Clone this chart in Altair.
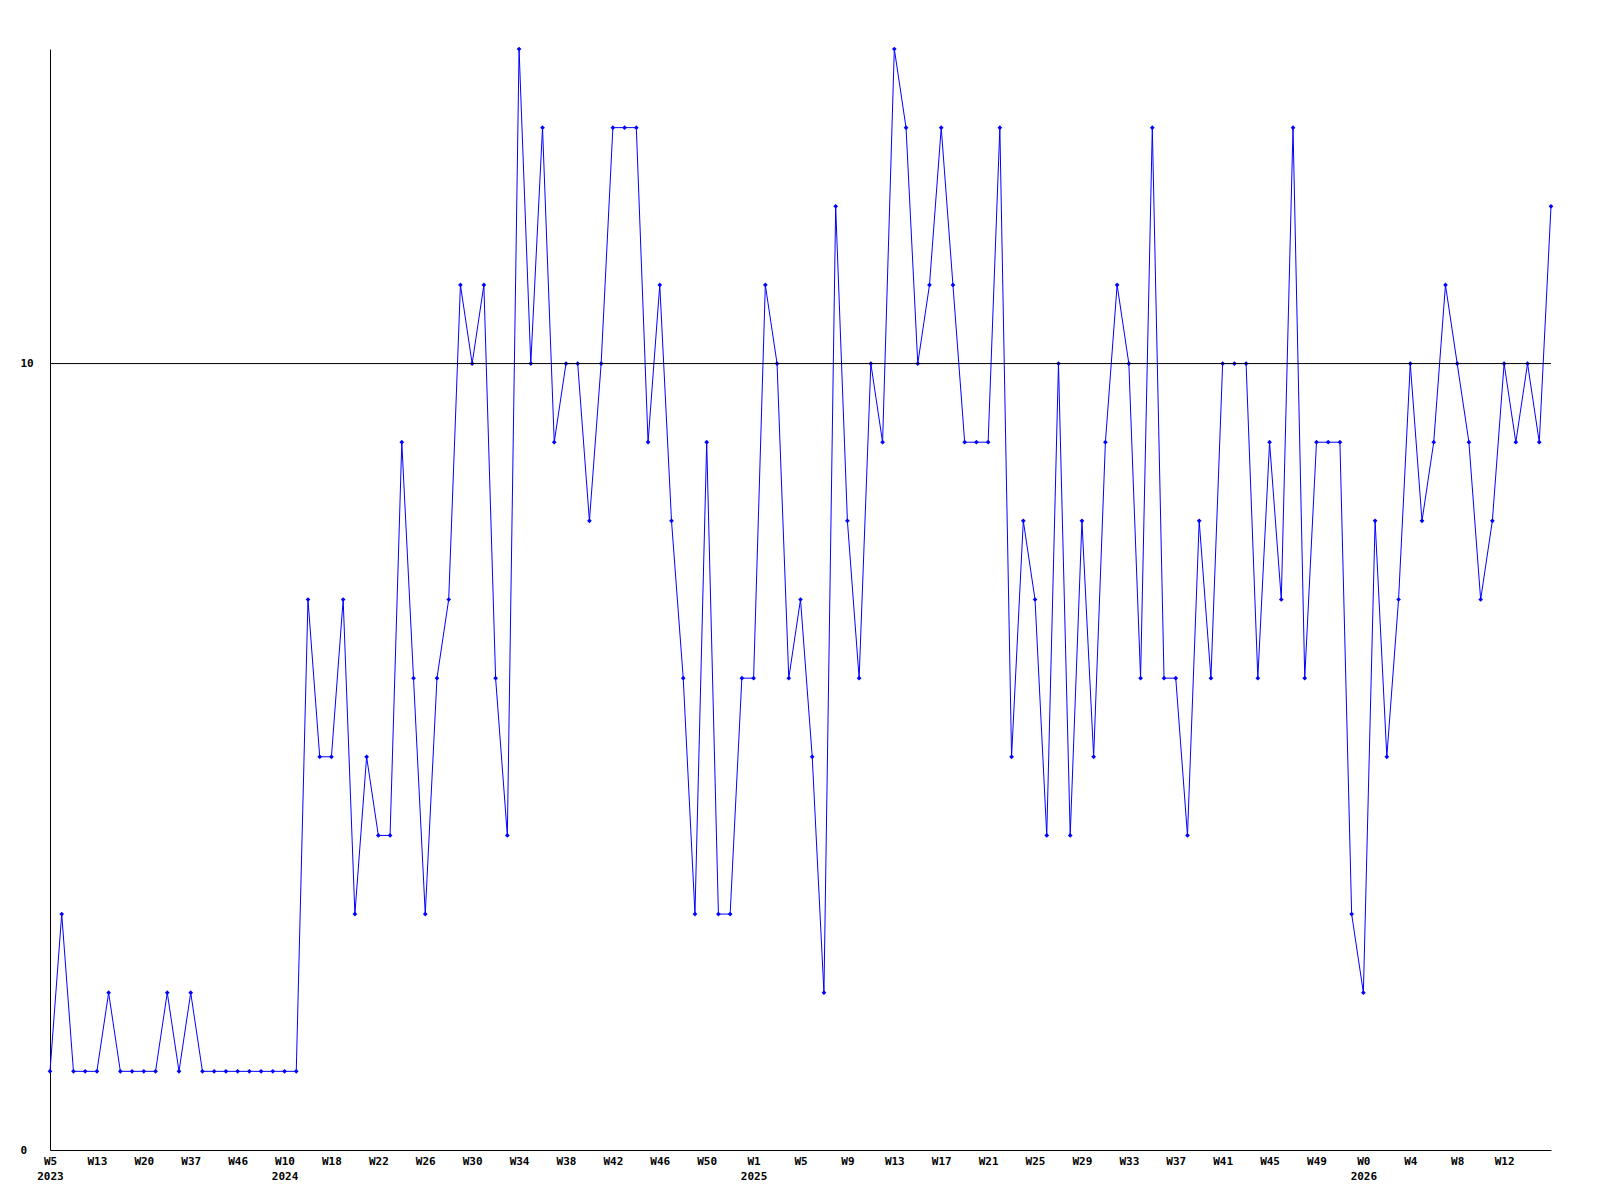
import altair as alt
import pandas as pd
import json

# values per point (129 weekly points)
values = [
    1, 3, 1, 1, 1, 2, 1, 1, 1, 1,
    2, 1, 2, 1, 1, 1, 1, 1, 1, 1,
    1, 1, 7, 5, 5, 7, 3, 5, 4, 4,
    9, 6, 3, 6, 7, 11, 10, 11, 6, 4,
    14, 10, 13, 9, 10, 10, 8, 10, 13, 13,
    13, 9, 11, 8, 6, 3, 9, 3, 3, 6,
    6, 11, 10, 6, 7, 5, 2, 12, 8, 6,
    10, 9, 14, 13, 10, 11, 13, 11, 9, 9,
    9, 13, 5, 8, 7, 4, 10, 4, 8, 5,
    9, 11, 10, 6, 13, 6, 6, 4, 8, 6,
    10, 10, 10, 6, 9, 7, 13, 6, 9, 9,
    9, 3, 2, 8, 5, 7, 10, 8, 9, 11,
    10, 9, 7, 8, 10, 9, 10, 9, 12,
]

# tick labels, one every 4 points
week_labels = [
    "W5", "W13", "W20", "W37", "W46", "W10", "W18", "W22", "W26", "W30",
    "W34", "W38", "W42", "W46", "W50", "W1", "W5", "W9", "W13", "W17",
    "W21", "W25", "W29", "W33", "W37", "W41", "W45", "W49", "W0", "W4",
    "W8", "W12",
]
year_labels = {0: "2023", 5: "2024", 15: "2025", 28: "2026"}

reference_value = 10

df = pd.DataFrame({"idx": list(range(len(values))), "value": values})

label_arr = []
for i, w in enumerate(week_labels):
    if i in year_labels:
        label_arr.append([w, year_labels[i]])
    else:
        label_arr.append(w)
label_expr = json.dumps(label_arr).replace('"', "'") + "[round(datum.value/4)]"

tick_vals = list(range(0, 4 * len(week_labels), 4))

FONT = "DejaVu Sans Mono"
BLUE = "#0000ff"

x = alt.X(
    "idx:Q",
    scale=alt.Scale(domain=[0, len(values) - 1], nice=False, zero=False),
    axis=alt.Axis(
        values=tick_vals,
        labelExpr=label_expr,
        title=None,
        grid=False,
        ticks=False,
        tickSize=0,
        labelPadding=5,
        labelAlign="center",
        labelBaseline="top",
        labelOverlap=False,
        labelFont=FONT,
        labelFontSize=11,
        labelFontWeight="bold",
        labelColor="black",
        labelLineHeight=15,
        domainColor="black",
        domainWidth=1,
    ),
)
y = alt.Y(
    "value:Q",
    scale=alt.Scale(domain=[0, 14], nice=False),
    axis=alt.Axis(
        values=[0, 10],
        format="d",
        title=None,
        grid=False,
        ticks=False,
        tickSize=0,
        labelPadding=30,
        labelAlign="left",
        labelBaseline="middle",
        labelFont=FONT,
        labelFontSize=11,
        labelFontWeight="bold",
        labelColor="black",
        domainColor="black",
        domainWidth=1,
    ),
)

line = alt.Chart(df).mark_line(color=BLUE, strokeWidth=1).encode(x=x, y=y)
pts = alt.Chart(df).mark_point(
    shape="diamond", filled=True, color=BLUE, size=22, opacity=1
).encode(x="idx:Q", y="value:Q")
rule = alt.Chart(pd.DataFrame({"v": [reference_value]})).mark_rule(
    color="black", strokeWidth=1
).encode(y="v:Q")

chart = (
    alt.layer(line, pts, rule)
    .properties(
        width=1501,
        height=1101,
        autosize=alt.AutoSizeParams(type="none"),
        padding={"left": 42, "top": 41, "right": 20, "bottom": 40},
    )
    .configure(background="white", view=alt.ViewConfig(stroke=None, strokeWidth=0))
)

chart.save("out.html", embed_options={"renderer": "svg", "actions": False})
